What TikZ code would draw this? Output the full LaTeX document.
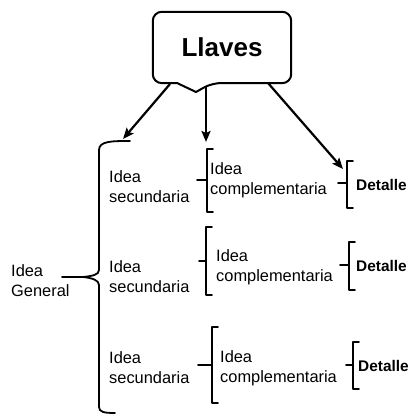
\documentclass[tikz,border=0pt]{standalone}
\usepackage{fontspec}
\setmainfont{Liberation Sans}
\usetikzlibrary{arrows.meta}
\begin{document}
\begin{tikzpicture}[x=1pt,y=-1pt,
  txt/.style={anchor=west,inner sep=0pt,align=left,font=\fontsize{16.4}{20}\selectfont},
  det/.style={anchor=west,inner sep=0pt,font=\bfseries\fontsize{15.4}{19}\selectfont},
  brace/.style={line width=1.8pt,line cap=round,line join=round},
  arr/.style={line width=2.2pt,-{Stealth[length=11pt,width=9pt,inset=2pt]}}]
\useasboundingbox (0,0) rectangle (409,415);
% title
\node[inner sep=0pt,minimum width=138pt,minimum height=71pt,font=\bfseries\fontsize{26}{30}\selectfont] (title) at (222,47.5) {Llaves};
\draw[line width=2pt,rounded corners=9pt] (177,83) -- (title.south west) -- (title.north west) -- (title.north east) -- (title.south east) -- (212,83) [sharp corners] -- (196,92) -- cycle;
\coordinate (s1) at (170,84);
\coordinate (s2) at (206,86);
\coordinate (s3) at (268,83);
\coordinate (e1) at (123,139);
\coordinate (e2) at (206,142);
\coordinate (e3) at (343,169);
\draw[arr] (s1) -- (e1);
\draw[arr] (s2) -- (e2);
\draw[arr] (s3) -- (e3);
% big brace
\draw[brace] (130,141) .. controls (112,141) and (99,141) .. (99,150) -- (99,270) .. controls (99,275) and (92,276) .. (83,277) .. controls (92,278) and (99,280) .. (99,285) -- (99,407) .. controls (99,412) and (104,413) .. (115,413);
\draw[brace] (62,277) -- (83,277);
\node[txt] (gen) at (11,281) {Idea\\General};
% secundaria
\node[txt] (s1t) at (109,187) {Idea\\secundaria};
\node[txt] (s2t) at (109,277) {Idea\\secundaria};
\node[txt] (s3t) at (109,368) {Idea\\secundaria};
% complementaria brackets
\draw[brace] (213,149) -- (207,149) -- (207,212) -- (213,212);
\draw[brace] (197,180) -- (207,180);
\draw[brace] (212,227) -- (206,227) -- (206,295) -- (212,295);
\draw[brace] (199,261) -- (206,261);
\draw[brace] (218,327) -- (212,327) -- (212,403) -- (218,403);
\draw[brace] (198,365) -- (212,365);
\node[txt] (c1) at (210,180) {Idea\\complementaria};
\node[txt] (c2) at (216,267) {Idea\\complementaria};
\node[txt] (c3) at (220,368) {Idea\\complementaria};
% detalle brackets
\draw[brace] (353,161) -- (347,161) -- (347,208) -- (353,208);
\draw[brace] (338,183) -- (347,183);
\draw[brace] (355,242) -- (349,242) -- (349,290) -- (355,290);
\draw[brace] (340,265) -- (349,265);
\draw[brace] (359,342) -- (353,342) -- (353,389) -- (359,389);
\draw[brace] (346,365) -- (353,365);
\node[det] (d1) at (356,185) {Detalle};
\node[det] (d2) at (356,266) {Detalle};
\node[det] (d3) at (358,366) {Detalle};
\end{tikzpicture}
\end{document}
